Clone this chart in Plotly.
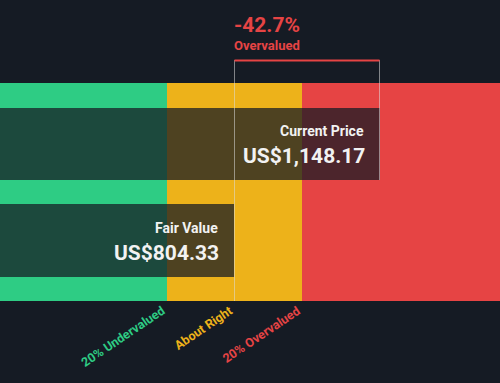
import plotly.graph_objects as go

# ---- data ----
fair_value = 804.33
current_price = 1148.17
band_labels = ["20% Undervalued", "About Right", "20% Overvalued"]
band_colors = ["#2ecc84", "#edb21a", "#e64444"]
price_labels = ["Current Price", "Fair Value"]
price_values = [current_price, fair_value]

# ---- derived ----
x_lo, x_hi = 248.3, 1433.9
low_edge = fair_value * 0.8
high_edge = fair_value * 1.2
band_starts = [x_lo, low_edge, high_edge]
band_ends = [low_edge, high_edge, x_hi]
diff_pct = (fair_value - current_price) / fair_value * 100

BG = "#151b24"
TXT = "#f2f2f2"
FONT = "Roboto"

fig = go.Figure()

# colored bands
for s, e, c in zip(band_starts, band_ends, band_colors):
    fig.add_trace(go.Bar(
        orientation="h", y=[192], x=[e - s], base=[s], width=[218],
        marker=dict(color=c, line=dict(width=0)), hoverinfo="skip", showlegend=False))

# dark overlay bars
bar_y = [144, 240.5]
bar_w = [72, 73]
for v, yc, w in zip(price_values, bar_y, bar_w):
    fig.add_trace(go.Bar(
        orientation="h", y=[yc], x=[v - x_lo], base=[x_lo], width=[w],
        marker=dict(color="rgba(21,27,36,0.74)", line=dict(width=0)),
        hoverinfo="skip", showlegend=False))

# thin grey verticals
fig.add_trace(go.Scatter(x=[fair_value, fair_value], y=[60, 301], mode="lines",
                         line=dict(color="rgba(220,220,220,0.55)", width=1),
                         hoverinfo="skip", showlegend=False))
fig.add_trace(go.Scatter(x=[current_price, current_price], y=[60, 180], mode="lines",
                         line=dict(color="rgba(220,220,220,0.55)", width=1),
                         hoverinfo="skip", showlegend=False))
# red bracket line
fig.add_trace(go.Scatter(x=[fair_value, current_price], y=[60.5, 60.5], mode="lines",
                         line=dict(color="#e64444", width=2),
                         hoverinfo="skip", showlegend=False))

ann = []
ann.append(dict(x=fair_value, y=25, xref="x", yref="y", text=f"{diff_pct:.1f}%",
                xanchor="left", yanchor="middle", showarrow=False, xshift=-2,
                font=dict(family=FONT, size=21, color="#e64444", weight="bold")))
ann.append(dict(x=fair_value, y=45, xref="x", yref="y", text="Overvalued",
                xanchor="left", yanchor="middle", showarrow=False, xshift=-2,
                font=dict(family=FONT, size=13, color="#e64444", weight="bold")))

name_y = [131, 228]
val_y = [156, 252.5]
for lab, v, ny, vy in zip(price_labels, price_values, name_y, val_y):
    ann.append(dict(x=v, y=ny, xref="x", yref="y", text=lab, xanchor="right",
                    yanchor="middle", showarrow=False, xshift=-14,
                    font=dict(family=FONT, size=14, color=TXT, weight="bold")))
    ann.append(dict(x=v, y=vy, xref="x", yref="y", text=f"US${v:,.2f}", xanchor="right",
                    yanchor="middle", showarrow=False, xshift=-13,
                    font=dict(family=FONT, size=21, color=TXT, weight="bold")))

label_x = [low_edge, fair_value, high_edge]
label_shift = [3, 4, 3]
for lab, lx, c, sh in zip(band_labels, label_x, band_colors, label_shift):
    ann.append(dict(x=lx, y=304, xref="x", yref="y", text=lab, textangle=-34,
                    xanchor="right", yanchor="top", showarrow=False, xshift=sh, yshift=4,
                    font=dict(family=FONT, size=12.5, color=c, weight="bold")))

fig.update_layout(
    width=500, height=383, margin=dict(l=0, r=0, t=0, b=0),
    paper_bgcolor=BG, plot_bgcolor=BG, barmode="overlay", bargap=0,
    xaxis=dict(range=[x_lo, x_hi], visible=False, fixedrange=True),
    yaxis=dict(range=[383, 0], visible=False, fixedrange=True),
    annotations=ann, showlegend=False,
)

fig.write_html("out.html")
